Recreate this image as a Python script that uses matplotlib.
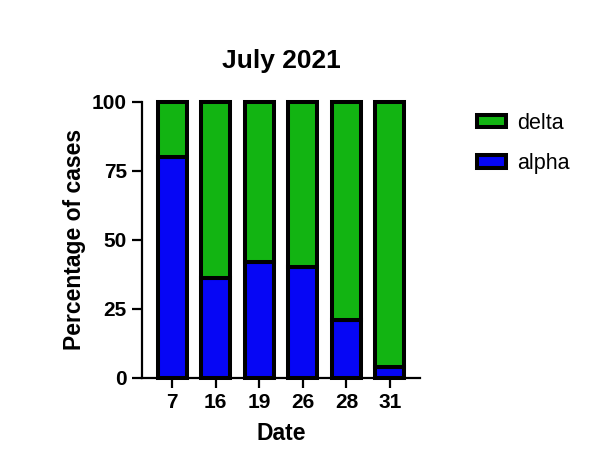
import matplotlib
matplotlib.use("Agg")
import matplotlib.pyplot as plt
import numpy as np

plt.rcParams['font.family'] = ['Liberation Sans', 'DejaVu Sans']

dates = ["7", "16", "19", "26", "28", "31"]
alpha = [80, 36, 42, 40, 21, 4]
delta = [100 - a for a in alpha]

fig = plt.figure(figsize=(6, 4.67), dpi=100)
ax = fig.add_axes([0.237, 0.191, 0.463, 0.591])

x = np.arange(len(dates))
w = 0.665
green = '#12B412'
blue = '#0606F5'
ax.bar(x, alpha, width=w, color=blue, edgecolor='black', linewidth=2.9, label='alpha', clip_on=False)
ax.bar(x, delta, bottom=alpha, width=w, color=green, edgecolor='black', linewidth=2.9, label='delta', clip_on=False)

ax.set_xlim(-0.69, 5.69)
ax.set_ylim(0, 100)
ax.set_yticks([0, 25, 50, 75, 100])
ax.set_xticks(x)
ax.set_xticklabels(dates)
for s in ['top', 'right']:
    ax.spines[s].set_visible(False)
for s in ['left', 'bottom']:
    ax.spines[s].set_linewidth(1.6)
ax.tick_params(axis='both', width=1.6, length=7, labelsize=15, pad=4)
for lab in ax.get_xticklabels() + ax.get_yticklabels():
    lab.set_fontweight('bold')

ax.set_title('July 2021', fontsize=19, fontweight='bold', pad=24)
ax.set_ylabel('Percentage of cases', fontsize=16.5, fontweight='bold', labelpad=4)
ax.set_xlabel('Date', fontsize=16.5, fontweight='bold', labelpad=7)

handles, labels = ax.get_legend_handles_labels()
leg = fig.legend(handles[::-1], labels[::-1], loc='upper left', bbox_to_anchor=(0.762, 0.80),
                 frameon=False, fontsize=15.5, handlelength=1.35, handleheight=0.5,
                 labelspacing=0.9, handletextpad=0.55)

fig.savefig('out.png', dpi=100)
